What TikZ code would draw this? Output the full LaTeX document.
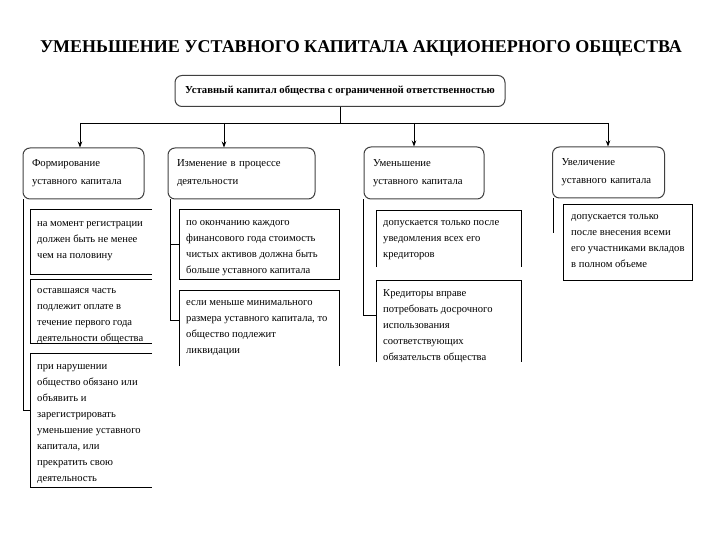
\documentclass[tikz,border=0pt]{standalone}
\usepackage{fontspec}
\setmainfont{Liberation Serif}
\usetikzlibrary{arrows.meta}
\begin{document}
\begin{tikzpicture}[x=1pt,y=-1pt,
  rbox/.style={draw=black!75, line width=1pt, rounded corners=7pt, inner xsep=9pt, inner ysep=0pt,
    align=left, font=\fontsize{10.7}{18}\selectfont},
  obox/.style={draw=black, line width=0.8pt},
  btxt/.style={anchor=north west, inner sep=0pt, align=left, font=\fontsize{10.6}{16}\selectfont},
  link/.style={draw=black, line width=0.8pt},
  arr/.style={link, -{Stealth[length=6pt,width=4.5pt]}}
]
\useasboundingbox (0,0) rectangle (720,540);

% title
\node[font=\fontsize{18}{20}\selectfont\bfseries] (title) at (361,48) {УМЕНЬШЕНИЕ УСТАВНОГО КАПИТАЛА АКЦИОНЕРНОГО ОБЩЕСТВА};

% top box
\node[rbox, minimum width=330pt, minimum height=31pt, font=\fontsize{10.7}{12}\selectfont\bfseries, align=center] (top) at (340,91) {Уставный капитал общества с ограниченной ответственностью};

% level 2
\node[rbox, minimum width=121pt, minimum height=51pt, text width=103pt] (b1) at (83.5,173.5) {Формирование\\уставного капитала};
\node[rbox, minimum width=147pt, minimum height=51pt, text width=129pt] (b2) at (241.5,173.5) {Изменение в процессе\\деятельности};
\node[rbox, minimum width=120pt, minimum height=52pt, text width=102pt] (b3) at (424,173) {Уменьшение\\уставного капитала};
\node[rbox, minimum width=112pt, minimum height=51pt, text width=94pt] (b4) at (608.5,172.5) {Увеличение\\уставного капитала};

% bus
\coordinate (j0) at (340,123);
\coordinate (j1) at (80,123);
\coordinate (j2) at (224,123);
\coordinate (j3) at (414,123);
\coordinate (j4) at (608,123);
\draw[link] (top.south -| j0) -- (j0);
\draw[link] (j1) -- (j4);
\draw[arr] (j1) -- (j1 |- b1.north);
\draw[arr] (j2) -- (j2 |- b2.north);
\draw[arr] (j3) -- (j3 |- b3.north);
\draw[arr] (j4) -- (j4 |- b4.north);

% column 1 (right side open)
\draw[obox] (152,209) -- (30,209) -- (30,274) -- (152,274);
\node[btxt] (ta) at (37,221) {на момент регистрации\\должен быть не менее\\чем на половину};
\draw[obox] (152,279) -- (30,279) -- (30,343) -- (152,343);
\node[btxt] (tb) at (37,288) {оставшаяся часть\\подлежит оплате в\\течение первого года\\деятельности общества};
\draw[obox] (152,353) -- (30,353) -- (30,487) -- (152,487);
\node[btxt] (tc) at (37,364) {при нарушении\\общество обязано или\\объявить и\\зарегистрировать\\уменьшение уставного\\капитала, или\\прекратить свою\\деятельность};
\coordinate (c1) at (23,410);
\draw[link] (b1.south -| c1) -- (c1) -- (30,410);

% column 2
\node[obox, minimum width=160pt, minimum height=70pt, anchor=north west, inner sep=0pt] (bd) at (179,209) {};
\node[btxt] (td) at (186,220) {по окончанию каждого\\финансового года стоимость\\чистых активов должна быть\\больше уставного капитала};
\draw[obox] (179,366) -- (179,290) -- (339,290) -- (339,366);
\coordinate (be) at (179,320);
\node[btxt] (te) at (186,300) {если меньше минимального\\размера уставного капитала, то\\общество подлежит\\ликвидации};
\coordinate (c2) at (170,320);
\draw[link] (b2.south -| c2) -- (c2) -- (be);
\draw[link] (c2 |- bd.west) -- (bd.west);

% column 3
\draw[obox] (376,267) -- (376,210) -- (521,210) -- (521,267);
\node[btxt] (tf) at (383,220) {допускается только после\\уведомления всех его\\кредиторов};
\draw[obox] (376,362) -- (376,280) -- (521,280) -- (521,362);
\node[btxt] (tg) at (383,289) {Кредиторы вправе\\потребовать досрочного\\использования\\соответствующих\\обязательств общества};
\coordinate (c3) at (363,315);
\draw[link] (b3.south -| c3) -- (c3) -- (376,315);

% column 4
\node[obox, minimum width=129pt, minimum height=76pt, anchor=north west, inner sep=0pt] (bh) at (563,204) {};
\node[btxt] (th) at (571,214) {допускается только\\после внесения всеми\\его участниками вкладов\\в полном объеме};
\coordinate (c4) at (553,233);
\draw[link] (b4.south -| c4) -- (c4);
\end{tikzpicture}
\end{document}
